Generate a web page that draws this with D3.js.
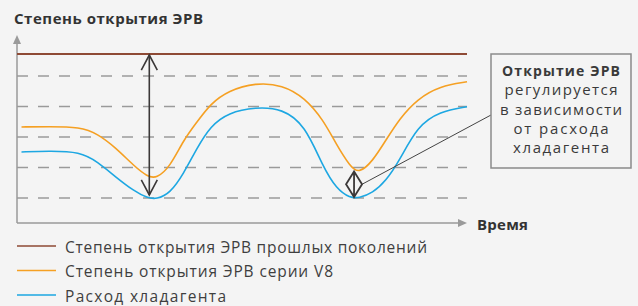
<!DOCTYPE html>
<html>
<head>
<meta charset="utf-8">
<script src="https://cdn.jsdelivr.net/npm/d3@7"></script>
<style>
  html, body { margin: 0; padding: 0; background: #f4f4f4; }
  svg { display: block; font-family: "Open Sans", "DejaVu Sans", sans-serif; }
</style>
</head>
<body>
<div id="chart"></div>
<script>
// time points (0..100) shared by both curves
const times = [1, 7, 14, 18, 22, 26, 29, 31, 34, 37, 40, 43, 47, 53, 59, 64, 68, 71, 74, 76, 79, 82, 85, 89, 94, 100];
// valve opening, V8 series
const v8Open = [3.33, 3.34, 3.33, 3.10, 2.64, 2.05, 1.70, 1.64, 2.02, 2.90, 3.49, 4.09, 4.52, 4.78, 4.71, 4.28, 3.57, 2.75, 2.04, 1.80, 2.20, 2.90, 3.60, 4.25, 4.67, 4.81];
// refrigerant flow
const flow = [2.51, 2.54, 2.52, 2.18, 1.68, 1.23, 1.00, 0.96, 1.15, 1.79, 2.64, 3.36, 3.80, 3.98, 3.93, 3.39, 2.02, 1.30, 1.00, 1.00, 1.16, 1.56, 2.23, 3.36, 3.84, 3.99];
// older generations: fixed full opening
const oldTimes = [0, 100];
const oldOpen = [5.72, 5.72];
const gridLevels = [1, 2, 3, 4, 5, 5.72];

const seriesNames = [
  'Степень открытия ЭРВ прошлых поколений',
  'Степень открытия ЭРВ серии V8',
  'Расход хладагента'
];
const seriesColors = ['#8e4a35', '#f5a023', '#1da7e2'];
const noteLines = ['Открытие ЭРВ', 'регулируется', 'в зависимости', 'от расхода', 'хладагента'];

// text widths measured on the reference, used to fit the font
const legendWidths = [362, 268, 161];
const noteWidths = [118, 113, 122, 95, 96];

const width = 638, height = 306;
const svg = d3.select('#chart').append('svg')
    .attr('width', width)
    .attr('height', height);

const x = d3.scaleLinear().domain([0, 100]).range([17, 467]);
const y = d3.scaleLinear().domain([0, 6]).range([228.5, 45.5]);
const axisY = 223;

// title
svg.append('text')
    .attr('x', 14).attr('y', 24)
    .attr('font-size', 15).attr('font-weight', 700)
    .attr('fill', '#333')
    .attr('textLength', 189).attr('lengthAdjust', 'spacing')
    .text('Степень открытия ЭРВ');

// dashed grid
svg.append('g')
    .selectAll('line')
    .data(gridLevels)
    .enter().append('line')
    .attr('x1', x(0)).attr('x2', x(100))
    .attr('y1', d => y(d)).attr('y2', d => y(d))
    .attr('stroke', '#9a9a9a')
    .attr('stroke-width', 1.5)
    .attr('stroke-dasharray', '11,10');

// axes with arrows
const axisColor = '#9a9a9a';
svg.append('line')
    .attr('x1', x(0)).attr('x2', x(0))
    .attr('y1', axisY).attr('y2', 42)
    .attr('stroke', axisColor).attr('stroke-width', 1.5);
svg.append('path')
    .attr('d', `M${x(0)},35 L${x(0) - 4},44 L${x(0) + 4},44 Z`)
    .attr('fill', axisColor);
svg.append('line')
    .attr('x1', x(0)).attr('x2', x(100) - 6)
    .attr('y1', axisY).attr('y2', axisY)
    .attr('stroke', axisColor).attr('stroke-width', 1.5);
svg.append('path')
    .attr('d', `M${x(100)},${axisY} L${x(100) - 9},${axisY - 4} L${x(100) - 9},${axisY + 4} Z`)
    .attr('fill', axisColor);
svg.append('text')
    .attr('x', 477).attr('y', 230)
    .attr('font-size', 15).attr('font-weight', 700)
    .attr('fill', '#333')
    .attr('textLength', 51).attr('lengthAdjust', 'spacing')
    .text('Время');

// curves
const line = d3.line()
    .x(d => x(d[0]))
    .y(d => y(d[1]))
    .curve(d3.curveBasis);

const series = [
  d3.zip(oldTimes, oldOpen),
  d3.zip(times, v8Open),
  d3.zip(times, flow)
];

svg.append('g')
    .selectAll('path')
    .data(series)
    .enter().append('path')
    .attr('d', d => line(d))
    .attr('fill', 'none')
    .attr('stroke', (d, i) => seriesColors[i])
    .attr('stroke-width', (d, i) => i === 0 ? 2 : 1.6);

// big double arrow: old valve vs flow minimum
const arrowColor = '#3b3838';
const ax = x(29.4);
const aTop = y(oldOpen[0]) + 1;
const aBot = y(1.1);
svg.append('line')
    .attr('x1', ax).attr('x2', ax)
    .attr('y1', aTop).attr('y2', aBot)
    .attr('stroke', arrowColor).attr('stroke-width', 1.6);
svg.append('path')
    .attr('d', `M${ax - 8},${aTop + 15} L${ax},${aTop} L${ax + 8},${aTop + 15}`)
    .attr('fill', 'none').attr('stroke', arrowColor).attr('stroke-width', 1.6);
svg.append('path')
    .attr('d', `M${ax - 8},${aBot - 15} L${ax},${aBot} L${ax + 8},${aBot - 15}`)
    .attr('fill', 'none').attr('stroke', arrowColor).attr('stroke-width', 1.6);

// small diamond between V8 opening and flow at second dip
const dx = x(74.9);
const dTop = y(1.87), dBot = y(1.03);
const dMid = (dTop + dBot) / 2;
svg.append('path')
    .attr('d', `M${dx},${dTop} L${dx - 8},${dMid} L${dx},${dBot} L${dx + 8},${dMid} Z M${dx},${dTop} L${dx},${dBot}`)
    .attr('fill', 'none').attr('stroke', arrowColor).attr('stroke-width', 1.8)
    .attr('stroke-linejoin', 'miter');

// note box + leader
const box = { x: 491, y: 54, w: 140, h: 114 };
svg.append('line')
    .attr('x1', dx + 8).attr('y1', dMid)
    .attr('x2', box.x).attr('y2', 115)
    .attr('stroke', '#444').attr('stroke-width', 1);
svg.append('rect')
    .attr('x', box.x).attr('y', box.y)
    .attr('width', box.w).attr('height', box.h)
    .attr('fill', '#f4f4f4')
    .attr('stroke', '#8a8a8a').attr('stroke-width', 1.5);
svg.append('g')
    .selectAll('text')
    .data(noteLines)
    .enter().append('text')
    .attr('x', box.x + box.w / 2)
    .attr('y', (d, i) => 76 + i * 19.3)
    .attr('text-anchor', 'middle')
    .attr('font-size', (d, i) => i === 0 ? 14 : 15)
    .attr('font-weight', (d, i) => i === 0 ? 700 : 400)
    .attr('fill', '#3a3a3a')
    .attr('textLength', (d, i) => noteWidths[i]).attr('lengthAdjust', 'spacing')
    .text(d => d);

// legend
const legend = svg.append('g')
    .selectAll('g')
    .data(seriesNames)
    .enter().append('g')
    .attr('transform', (d, i) => `translate(17,${246 + i * 24.5})`);
legend.append('line')
    .attr('x1', 0).attr('x2', 39)
    .attr('stroke', (d, i) => seriesColors[i])
    .attr('stroke-width', 1.6);
legend.append('text')
    .attr('x', 48).attr('y', 6.5)
    .attr('font-size', 15.5)
    .attr('fill', '#3f3f3f')
    .attr('textLength', (d, i) => legendWidths[i]).attr('lengthAdjust', 'spacing')
    .text(d => d);
</script>
</body>
</html>
